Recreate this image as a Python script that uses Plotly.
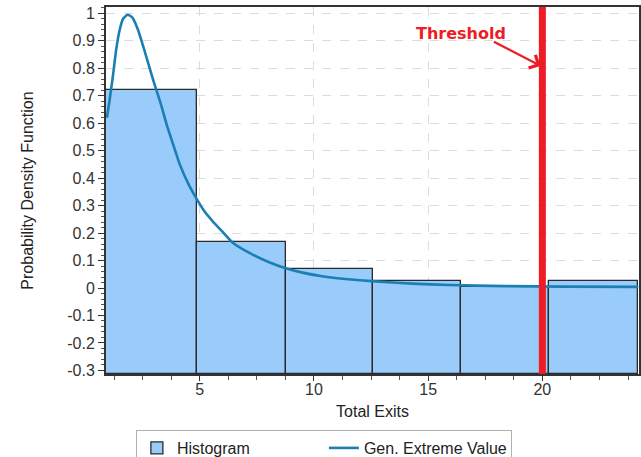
import plotly.graph_objects as go

# ---- data ----
bin_edges = [0.90, 4.87, 8.80, 12.58, 16.45, 20.30, 24.19]
bin_density = [0.72, 0.166, 0.071, 0.024, 0.003, 0.024]

gev_x = [0.94, 1.05, 1.20, 1.35, 1.50, 1.65, 1.85, 2.05, 2.30, 2.60, 2.97, 3.30, 3.55,
         3.85, 4.13, 4.50, 4.85, 5.20, 5.58, 6.00, 6.45, 7.20, 8.04, 8.77, 9.50,
         10.36, 11.50, 12.53, 14.30, 15.90, 18.40, 21.00, 24.20]
gev_y = [0.62, 0.68, 0.77, 0.87, 0.94, 0.98, 0.995, 0.985, 0.94, 0.86, 0.756, 0.67, 0.597,
         0.52, 0.45, 0.38, 0.327, 0.28, 0.242, 0.205, 0.165, 0.127, 0.094, 0.072, 0.056,
         0.043, 0.032, 0.025, 0.016, 0.011, 0.007, 0.005, 0.004]

threshold = 20
y_tick_vals = [1, 0.9, 0.8, 0.7, 0.6, 0.5, 0.4, 0.3, 0.2, 0.1, 0, -0.1, -0.2, -0.3]
y_tick_text = ["1", "0.9", "0.8", "0.7", "0.6", "0.5", "0.4", "0.3", "0.2", "0.1", "0",
               "-0.1", "-0.2", "-0.3"]
x_tick_vals = [5, 10, 15, 20]
x_tick_text = ["5", "10", "15", "20"]

Y_MIN, Y_MAX = -0.313, 1.023
X_MIN, X_MAX = 0.90, 24.23

centers = [(a + b) / 2 for a, b in zip(bin_edges[:-1], bin_edges[1:])]
widths = [b - a for a, b in zip(bin_edges[:-1], bin_edges[1:])]
heights = [d - Y_MIN for d in bin_density]

FONT = "Liberation Sans, Arial, sans-serif"
W, H = 641, 475
ML, MR, MT, MB = 106, 0, 7, 101
PH = H - MT - MB  # plot height in px
PW = W - ML - MR

fig = go.Figure()
fig.add_trace(go.Bar(
    x=centers, y=heights, base=Y_MIN, width=widths, name="Histogram",
    marker=dict(color="#99cbfb", line=dict(color="#2a2a2a", width=1.3)),
))
fig.add_trace(go.Scatter(
    x=gev_x, y=gev_y, mode="lines", name="Gen. Extreme Value",
    line=dict(color="#1a80b4", width=2.6, shape="spline", smoothing=0.5),
))

fig.add_shape(type="line", x0=threshold, x1=threshold, xref="x", yref="paper",
              y0=0, y1=1, line=dict(color="#ee1c25", width=7), layer="above")

fig.add_annotation(x=threshold, y=0.805, xref="x", yref="y", text="",
                   showarrow=True, ax=-50, ay=-26, arrowhead=4, arrowsize=1.3,
                   arrowwidth=2.2, arrowcolor="#ee1c25", standoff=2)
fig.add_annotation(x=(462 - ML) / PW, y=1 - (33 - MT) / PH, xref="paper", yref="paper",
                   text="<b>Threshold</b>", showarrow=False,
                   xanchor="center", yanchor="middle",
                   font=dict(family="DejaVu Sans", size=16, color="#ee1c25"))

fig.update_layout(
    width=W, height=H,
    margin=dict(l=ML, r=MR, t=MT, b=MB),
    paper_bgcolor="white", plot_bgcolor="white",
    font=dict(family=FONT, size=16, color="#333"),
    barmode="overlay", bargap=0,
    showlegend=True,
    legend=dict(orientation="h", x=(136 - ML) / PW, xanchor="left",
                y=-(430 - (MT + PH)) / PH, yanchor="top",
                bordercolor="#b0b0b0", borderwidth=1, font=dict(size=16, color="#222"),
                entrywidth=142, entrywidthmode="pixels", itemwidth=30,
                tracegroupgap=0),
)

fig.update_xaxes(
    range=[X_MIN, X_MAX], tickvals=x_tick_vals, ticktext=x_tick_text,
    showline=True, linecolor="#333", linewidth=2, mirror=True,
    ticks="outside", ticklen=5, tickcolor="#333", ticklabelstandoff=-5,
    minor=dict(dtick=1.25, tick0=0, ticks="outside", ticklen=4, tickcolor="#555", showgrid=False),
    showgrid=True, gridcolor="#dcdcdc", griddash="dash", gridwidth=1,
    zeroline=False,
    title=dict(text="Total Exits", font=dict(size=16, color="#222"), standoff=9),
    tickfont=dict(size=16, color="#333"),
)
fig.update_yaxes(
    range=[Y_MIN, Y_MAX], tickvals=y_tick_vals, ticktext=y_tick_text,
    showline=True, linecolor="#333", linewidth=2, mirror=True,
    ticks="outside", ticklen=6, tickcolor="#333",
    minor=dict(dtick=0.02, tick0=0, ticks="outside", ticklen=3, tickcolor="#555", showgrid=False),
    showgrid=True, gridcolor="#dcdcdc", griddash="dash", gridwidth=1,
    zeroline=False,
    title=dict(text="Probability Density Function", font=dict(size=16, color="#222"), standoff=30),
    tickfont=dict(size=16, color="#333"),
)

fig.write_html("out.html",
               config={"displayModeBar": False},
               post_script="document.body.style.margin='0';"
                           "document.documentElement.style.overflow='hidden';"
                           "document.body.style.overflow='hidden';")
